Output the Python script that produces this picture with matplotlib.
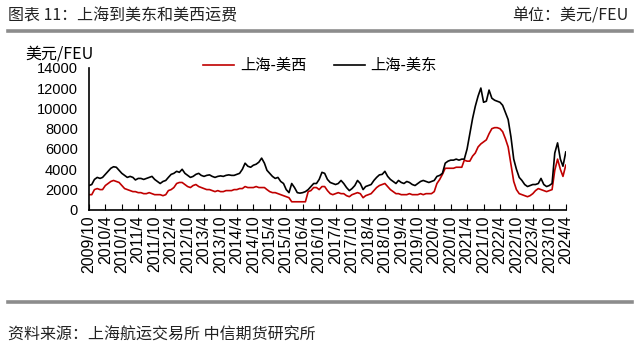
import matplotlib
matplotlib.use('Agg')
import matplotlib.pyplot as plt
import pandas as pd

plt.rcParams['font.family'] = ['Liberation Sans', 'Noto Sans CJK SC', 'DejaVu Sans']

# monthly, 2009/10 .. 2024/4, unit: USD/FEU (thousand)
usec = [2.4, 2.5, 3.0, 3.2, 3.1, 3.2, 3.5, 3.8, 4.1, 4.25,
        4.2, 3.9, 3.6, 3.4, 3.2, 3.3, 3.2, 2.95, 3.1, 3.1,
        3.0, 3.1, 3.2, 3.3, 3.0, 2.8, 2.6, 2.8, 2.9, 3.2,
        3.5, 3.6, 3.8, 3.7, 4.0, 3.6, 3.4, 3.2, 3.3, 3.5,
        3.6, 3.4, 3.3, 3.4, 3.45, 3.3, 3.2, 3.3, 3.35, 3.3,
        3.4, 3.45, 3.4, 3.4, 3.5, 3.6, 4.0, 4.6, 4.3, 4.2,
        4.4, 4.5, 4.7, 5.1, 4.6, 3.9, 3.6, 3.3, 3.1, 3.2,
        2.8, 2.6, 2.0, 1.7, 2.6, 2.2, 1.7, 1.65, 1.7, 1.8,
        2.0, 2.3, 2.6, 2.6, 3.0, 3.7, 3.6, 3.0, 2.7, 2.6,
        2.5, 2.6, 2.9, 2.6, 2.2, 1.9, 2.1, 2.4, 2.9, 2.6,
        2.0, 2.3, 2.4, 2.5, 2.9, 3.2, 3.45, 3.5, 3.8, 3.3,
        3.0, 2.8, 2.6, 2.9, 2.7, 2.6, 2.8, 2.7, 2.5, 2.4,
        2.6, 2.8, 2.9, 2.8, 2.7, 2.8, 2.9, 3.3, 3.4, 3.6,
        4.6, 4.8, 4.9, 4.9, 5.0, 4.9, 5.0, 5.0, 6.0, 7.5,
        9.0, 10.2, 11.2, 12.0, 10.6, 10.7, 11.8, 11.0, 10.8, 10.7,
        10.6, 10.3, 9.6, 8.9, 7.2, 5.0, 4.0, 3.2, 2.9, 2.5,
        2.3, 2.4, 2.5, 2.5, 2.6, 3.1, 2.5, 2.3, 2.4, 2.6,
        5.6, 6.6, 5.0, 4.3, 5.7]

uswc = [1.5, 1.5, 2.0, 2.1, 2.0, 2.0, 2.4, 2.6, 2.8, 2.9,
        2.8, 2.7, 2.4, 2.1, 2.0, 1.9, 1.8, 1.8, 1.7, 1.7,
        1.6, 1.6, 1.7, 1.6, 1.5, 1.5, 1.5, 1.4, 1.5, 1.9,
        2.0, 2.2, 2.6, 2.7, 2.7, 2.5, 2.3, 2.2, 2.4, 2.5,
        2.3, 2.2, 2.1, 2.0, 2.0, 1.9, 1.8, 1.9, 1.8, 1.8,
        1.9, 1.9, 1.9, 2.0, 2.0, 2.1, 2.1, 2.3, 2.2, 2.2,
        2.2, 2.3, 2.2, 2.2, 2.2, 2.0, 1.8, 1.7, 1.7, 1.6,
        1.5, 1.4, 1.3, 1.2, 0.8, 0.8, 0.8, 0.8, 0.8, 0.8,
        1.8, 1.9, 2.2, 2.2, 2.0, 2.3, 2.3, 1.9, 1.6, 1.5,
        1.6, 1.7, 1.6, 1.6, 1.4, 1.3, 1.5, 1.6, 1.7, 1.6,
        1.2, 1.4, 1.5, 1.6, 1.9, 2.2, 2.4, 2.5, 2.6, 2.3,
        2.0, 1.8, 1.6, 1.6, 1.5, 1.5, 1.5, 1.6, 1.5, 1.5,
        1.5, 1.6, 1.5, 1.6, 1.6, 1.6, 1.8, 2.6, 3.0, 3.5,
        4.1, 4.1, 4.1, 4.1, 4.2, 4.2, 4.2, 4.9, 4.8, 4.8,
        5.3, 5.6, 6.2, 6.5, 6.7, 6.9, 7.5, 8.0, 8.1, 8.1,
        8.0, 7.7, 7.0, 6.2, 4.5, 2.8, 2.0, 1.6, 1.5, 1.4,
        1.3, 1.4, 1.6, 1.9, 2.1, 2.0, 1.9, 1.8, 1.9, 2.0,
        3.9, 5.0, 4.0, 3.3, 4.4]

dates = pd.date_range('2009-10-01', periods=len(usec), freq='MS')
east = [v * 1000 for v in usec]
west = [v * 1000 for v in uswc]

fig = plt.figure(figsize=(6.4, 3.51), dpi=100)
ax = fig.add_axes([0.139, 0.402, 0.745, 0.405])

ax.plot(dates, west, color='#C00000', lw=1.2, label='上海-美西')
ax.plot(dates, east, color='black', lw=1.2, label='上海-美东')

ax.set_ylim(0, 14000)
ax.set_yticks(range(0, 14001, 2000))
ax.set_xlim(dates[0], dates[-1])
tick_dates = dates[::6]
ax.set_xticks(tick_dates)
ax.set_xticklabels([f'{d.year}/{d.month}' for d in tick_dates], rotation=90, fontsize=11.5)
ax.tick_params(axis='x', direction='in', length=4, pad=4)
ax.tick_params(axis='y', length=0, labelsize=10.5, pad=8)
for s in ['top', 'right']:
    ax.spines[s].set_visible(False)
ax.spines['left'].set_linewidth(1.2)
ax.spines['bottom'].set_linewidth(1.2)

ax.legend(loc='upper center', bbox_to_anchor=(0.485, 1.17), ncol=2, frameon=False,
          handlelength=2.0, columnspacing=1.8, handletextpad=0.4,
          prop={'family': ['Noto Sans CJK SC'], 'size': 11})

cjk = ['Noto Sans CJK SC', 'DejaVu Sans']
fig.text(0.039, 0.845, '美元/FEU', family=cjk, fontsize=11.5, va='center')
fig.text(0.012, 0.955, '图表 11：上海到美东和美西运费', family=cjk, fontsize=11.5, color='#222222', va='center')
fig.text(0.80, 0.955, '单位：美元/FEU', family=cjk, fontsize=11.5, color='#222222', va='center')
fig.text(0.012, 0.046, '资料来源：上海航运交易所 中信期货研究所', family=cjk, fontsize=11.5, color='#222222', va='center')

fig.add_artist(plt.Line2D([0.012, 0.988], [0.911, 0.911], color='#8c8c8c', lw=2.6))
fig.add_artist(plt.Line2D([0.012, 0.988], [0.14, 0.14], color='#8c8c8c', lw=2.6))

fig.savefig('out.png', dpi=100, facecolor='white')
